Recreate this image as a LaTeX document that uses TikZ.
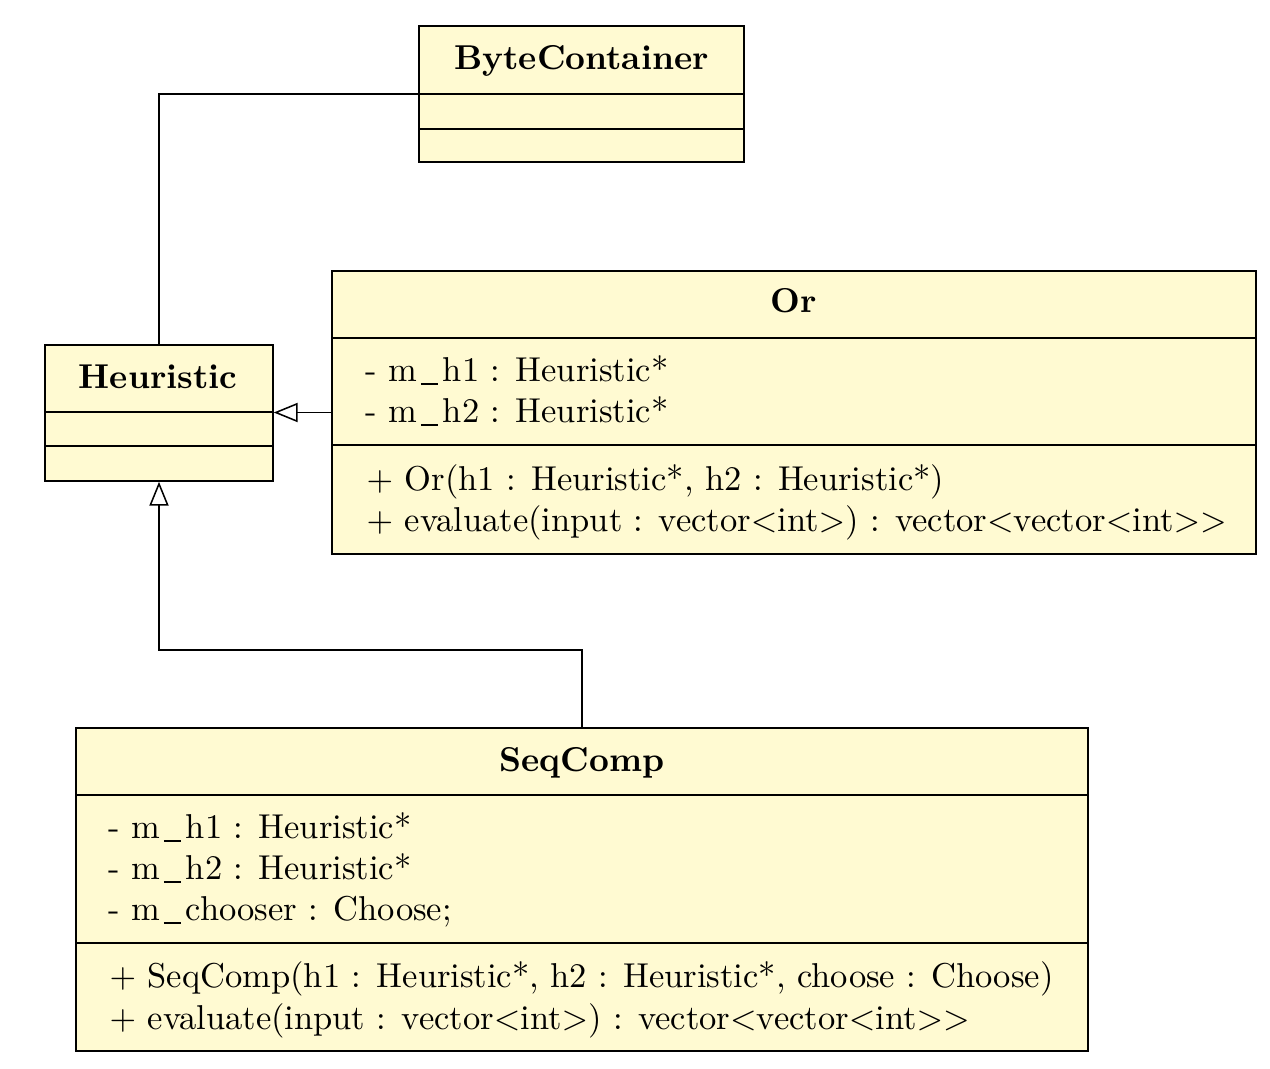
\documentclass[tikz,border=0pt]{standalone}
\usetikzlibrary{arrows.meta,fit}
\definecolor{classfill}{RGB}{255,250,210}
% underscore drawn as a short rule below the baseline
\newcommand\undsc{\kern.1em\rule[-1.2pt]{.5em}{.5pt}\kern.14em}
\begin{document}
\begin{tikzpicture}[x=0.2927pt,y=-0.2927pt,
  every node/.style={font=\fontsize{10.1}{12}\selectfont},
  classbox/.style={draw,fill=classfill,line width=0.45pt,inner sep=0pt},
  divider/.style={line width=0.45pt},
  classtitle/.style={font=\fontsize{10.1}{12}\selectfont\bfseries,anchor=base,inner sep=0pt},
  member/.style={anchor=base west,inner sep=0pt},
  link/.style={line width=0.45pt},
  inherit/.style={link,-{Triangle[open,length=7pt,width=5.6pt]}}]
\useasboundingbox[fill=white] (0,0) rectangle (1270,1068);

% ByteContainer
\node[classbox,fit={(419,26) (744,162)}] (byte) {};
\draw[divider] (419,94) -- (744,94);
\draw[divider] (419,129) -- (744,129);
\node[classtitle] (bytetitle) at (581.5,69) {ByteContainer};

% Heuristic
\node[classbox,fit={(45,345) (273,481)}] (heur) {};
\draw[divider] (45,412) -- (273,412);
\draw[divider] (45,446) -- (273,446);
\node[classtitle] (heurtitle) at (158,388) {Heuristic};

% Or
\node[classbox,fit={(332,271) (1256,554)}] (or) {};
\draw[divider] (332,338) -- (1256,338);
\draw[divider] (332,445) -- (1256,445);
\node[classtitle] (ortitle) at (794,312) {Or};
\node[member] (ora1) at (365,381) {- m\undsc h1 : Heuristic*};
\node[member] (ora2) at (365,422) {- m\undsc h2 : Heuristic*};
\node[member] (oro1) at (366,490) {$+$ Or(h1 : Heuristic*, h2 : Heuristic*)};
\node[member] (oro2) at (366,531) {$+$ evaluate(input : vector$<$int$>$) : vector$<$vector$<$int$>>$};

% SeqComp
\node[classbox,fit={(76,728) (1088,1051)}] (seq) {};
\draw[divider] (76,795) -- (1088,795);
\draw[divider] (76,943) -- (1088,943);
\node[classtitle] (seqtitle) at (582,771) {SeqComp};
\node[member] (seqa1) at (108,838) {- m\undsc h1 : Heuristic*};
\node[member] (seqa2) at (108,879) {- m\undsc h2 : Heuristic*};
\node[member] (seqa3) at (108,920) {- m\undsc chooser : Choose;};
\node[member] (seqo1) at (109,987) {$+$ SeqComp(h1 : Heuristic*, h2 : Heuristic*, choose : Choose)};
\node[member] (seqo2) at (109,1029) {$+$ evaluate(input : vector$<$int$>$) : vector$<$vector$<$int$>>$};

% Relations
\draw[link] (heur.north) |- (byte.west);
\draw[inherit] (or.west) -- (or.west -| heur.east);
\draw[inherit] (seq.north) -- ++(0,-77) -| (heur.south);
\end{tikzpicture}
\end{document}
